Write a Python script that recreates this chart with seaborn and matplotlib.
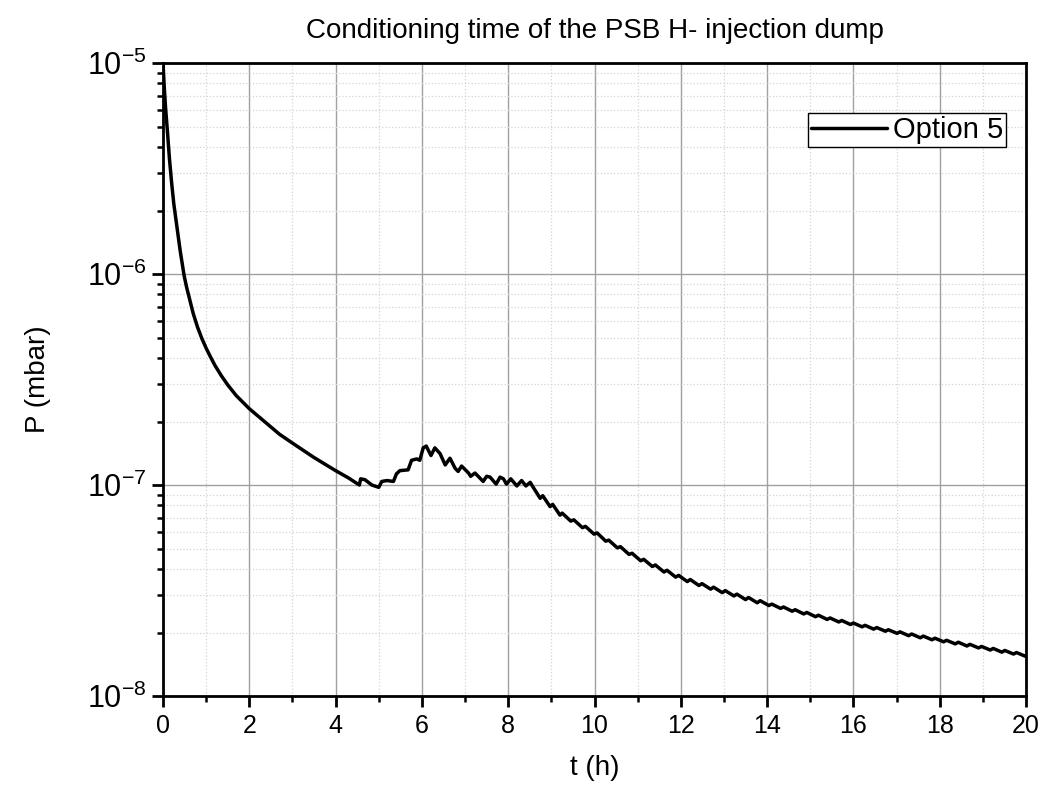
import numpy as np
import pandas as pd
import seaborn as sns
import matplotlib
matplotlib.use('Agg')
import matplotlib.pyplot as plt
from matplotlib.ticker import MultipleLocator, LogLocator, FuncFormatter, NullFormatter

# pressure, in units of 1e-8 mbar
t_start = [0.0, 0.03, 0.06, 0.1, 0.15, 0.2, 0.25, 0.3, 0.35, 0.4, 0.45,
           0.49, 0.55, 0.63, 0.7, 0.8, 0.9, 1.0, 1.1, 1.2, 1.35, 1.5, 1.7,
           2.0, 2.3, 2.7, 3.0, 3.5, 4.0, 4.3, 4.55]
p_start = [1000, 760, 610, 480, 350, 270, 215, 180, 152, 128, 110,
           98, 86, 74, 65, 56, 49.5, 44.5, 40.5, 37, 33, 29.8, 26.5,
           23, 20.4, 17.4, 15.8, 13.5, 11.7, 10.8, 10.0]

# bumpy part after the dump starts
t_bump = [4.58, 4.68, 4.76, 4.84, 5.0, 5.07, 5.19, 5.34, 5.41, 5.49, 5.68,
          5.76, 5.88, 5.95, 6.03, 6.10, 6.21, 6.30, 6.42, 6.54, 6.65, 6.77,
          6.84, 6.92, 7.08, 7.13, 7.23, 7.42, 7.50, 7.58, 7.72, 7.81, 7.89,
          7.96, 8.06, 8.20, 8.31, 8.41, 8.51, 8.58, 8.74, 8.80, 8.97, 9.03, 9.20]
p_bump = [10.7, 10.6, 10.3, 10.0, 9.75, 10.4, 10.5, 10.4, 11.3, 11.7, 11.8,
          13.1, 13.3, 13.1, 15.0, 15.3, 13.8, 15.0, 14.1, 12.45, 13.4, 12.0,
          11.6, 12.3, 11.4, 11.0, 11.4, 10.4, 11.0, 10.9, 10.1, 10.9, 10.7,
          10.1, 10.7, 9.9, 10.5, 9.9, 10.3, 9.75, 8.65, 8.9, 7.9, 8.1, 7.2]

# slow decay tail with small ripples
t_tail = [9.25, 9.45, 9.52, 9.72, 9.79, 9.99, 10.06, 10.26, 10.33, 10.53,
          10.60, 10.80, 10.87, 11.07, 11.14, 11.34, 11.41, 11.61, 11.68, 11.88,
          11.95, 12.15, 12.22, 12.42, 12.49, 12.69, 12.76, 12.96, 13.03, 13.23,
          13.30, 13.50, 13.57, 13.77, 13.84, 14.04, 14.11, 14.31, 14.38, 14.58,
          14.65, 14.85, 14.92, 15.12, 15.19, 15.39, 15.46, 15.66, 15.73, 15.93,
          16.00, 16.20, 16.27, 16.47, 16.54, 16.74, 16.81, 17.01, 17.08, 17.28,
          17.35, 17.55, 17.62, 17.82, 17.89, 18.09, 18.16, 18.36, 18.43, 18.63,
          18.70, 18.90, 18.97, 19.17, 19.24, 19.44, 19.51, 19.71, 19.78, 19.98,
          20.0]
p_tail = [7.36, 6.745, 6.84, 6.28, 6.37, 5.85, 5.93, 5.42, 5.48, 5.035,
          5.105, 4.69, 4.75, 4.375, 4.446, 4.11, 4.18, 3.87, 3.945, 3.66,
          3.73, 3.487, 3.565, 3.34, 3.41, 3.21, 3.28, 3.09, 3.16, 2.98,
          3.04, 2.864, 2.93, 2.767, 2.83, 2.685, 2.726, 2.603, 2.642, 2.523,
          2.564, 2.449, 2.489, 2.377, 2.415, 2.307, 2.344, 2.244, 2.28, 2.183,
          2.218, 2.128, 2.163, 2.075, 2.111, 2.028, 2.061, 1.982, 2.014, 1.932,
          1.968, 1.888, 1.923, 1.848, 1.879, 1.807, 1.837, 1.766, 1.799, 1.726,
          1.758, 1.690, 1.718, 1.652, 1.681, 1.614, 1.644, 1.581, 1.607, 1.545,
          1.56]

df = pd.DataFrame({
    't': t_start + t_bump + t_tail,
    'P': np.array(p_start + p_bump + p_tail) * 1e-8,
})

sns.set_style('white')
plt.rcParams['font.family'] = ['Liberation Sans', 'DejaVu Sans']
plt.rcParams['mathtext.fontset'] = 'custom'
plt.rcParams['mathtext.rm'] = 'Liberation Sans'
plt.rcParams['mathtext.it'] = 'Liberation Sans'
# plain black text, like the original
for key in ['text.color', 'axes.labelcolor', 'xtick.color', 'ytick.color']:
    plt.rcParams[key] = 'black'

fig = plt.figure(figsize=(10.41, 7.95), dpi=100)
ax = fig.add_axes([0.1566, 0.1245, 0.8290, 0.7962])

sns.lineplot(data=df, x='t', y='P', color='black', linewidth=2.5,
             estimator=None, sort=False, label='Option 5', ax=ax)

ax.set_yscale('log')
ax.set_xlim(0, 20)
ax.set_ylim(1e-8, 1e-5)

ax.xaxis.set_major_locator(MultipleLocator(2))
ax.xaxis.set_minor_locator(MultipleLocator(1))
ax.yaxis.set_major_locator(LogLocator(base=10, numticks=10))
ax.yaxis.set_minor_locator(LogLocator(base=10, subs=np.arange(2, 10), numticks=20))
ax.yaxis.set_minor_formatter(NullFormatter())
ax.yaxis.set_major_formatter(FuncFormatter(
    lambda v, pos: r'$\mathregular{10^{%d}}$' % int(round(np.log10(v)))))

ax.grid(which='major', color='#a0a0a0', linewidth=1.0)
ax.grid(which='minor', color='#d4d4d4', linestyle=':', linewidth=0.9)
ax.set_axisbelow(True)

for s in ax.spines.values():
    s.set_linewidth(2.0)
    s.set_color('black')

ax.tick_params(which='major', direction='out', length=8, width=2,
               bottom=True, left=True, top=False, right=False, color='black')
ax.tick_params(which='minor', direction='out', length=4.5, width=1.8,
               bottom=True, left=True, top=False, right=False, color='black')
ax.tick_params(axis='x', which='major', labelsize=18, pad=5, labelcolor='black')
ax.tick_params(axis='y', which='major', labelsize=22, pad=4, labelcolor='black')

ax.set_xlabel('t (h)', fontsize=20, labelpad=12, color='black')
ax.set_ylabel('P (mbar)', fontsize=20, labelpad=26, color='black')
ax.set_title('Conditioning time of the PSB H- injection dump', fontsize=20,
             pad=18, color='black')

leg = ax.legend(loc='upper right', bbox_to_anchor=(0.977, 0.921),
                borderaxespad=0, fontsize=21, frameon=True, fancybox=False,
                framealpha=1, edgecolor='black', handlelength=2.6,
                handletextpad=0.2, borderpad=0.1)
leg.get_frame().set_linewidth(1.0)
for txt in leg.get_texts():
    txt.set_color('black')

fig.savefig('out.png', dpi=100)
